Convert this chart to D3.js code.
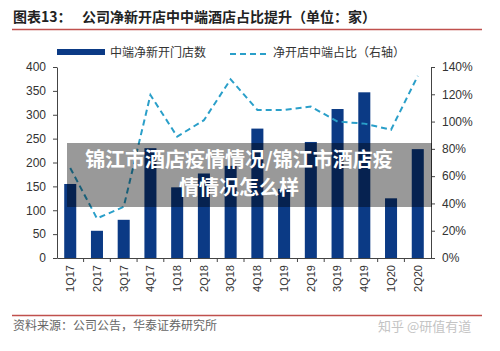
<!DOCTYPE html>
<html><head><meta charset="utf-8">
<script src="https://cdn.jsdelivr.net/npm/d3@7"></script>
<style>body{margin:0;background:#fff;}svg{display:block;}</style>
</head><body>
<script>
const categories = ["1Q17","2Q17","3Q17","4Q17","1Q18","2Q18","3Q18","4Q18","1Q19","2Q19","3Q19","4Q19","1Q20","2Q20"];
const newStores = [155,57,80,230,148,177,193,271,145,243,312,347,125,228];
const midShare = [0.66,0.29,0.375,1.195,0.89,1.01,1.31,1.085,1.085,1.11,1.0,0.985,0.94,1.335];
const leftTicks = [0,50,100,150,200,250,300,350,400];
const rightTicks = [0,0.2,0.4,0.6,0.8,1.0,1.2,1.4];

const W=500,H=351;
const svg=d3.select("body").append("svg").attr("width",W).attr("height",H);
const font='"Noto Sans CJK SC", "Noto Sans", sans-serif';
const num='"Liberation Sans", Arial, sans-serif';

// title
svg.append("text").attr("x",13).attr("y",22).attr("font-family",font).attr("font-weight","bold")
  .attr("font-size",14).attr("fill","#222").text("图表13：");
svg.append("text").attr("x",82).attr("y",22).attr("font-family",font).attr("font-weight","bold")
  .attr("font-size",14).attr("fill","#222").text("公司净新开店中中端酒店占比提升（单位：家）");
svg.append("line").attr("x1",12).attr("x2",482).attr("y1",29.5).attr("y2",29.5).attr("stroke","#c0504d").attr("stroke-width",1.5);

const x=d3.scaleBand().domain(categories).range([57,431]).paddingInner(0.55).paddingOuter(0.27);
const y=d3.scaleLinear().domain([0,400]).range([258,67]);
const y2=d3.scaleLinear().domain([0,1.4]).range([258,67]);

const barColor="#0b3a85", lineColor="#2a9fc9";

// legend
svg.append("rect").attr("x",57).attr("y",49).attr("width",48).attr("height",6).attr("fill",barColor);
svg.append("text").attr("x",110).attr("y",57).attr("font-family",font).attr("font-size",12).attr("fill","#333").text("中端净新开门店数");
svg.append("line").attr("x1",230).attr("x2",268).attr("y1",54).attr("y2",54).attr("stroke",lineColor).attr("stroke-width",2).attr("stroke-dasharray","6,4");
svg.append("text").attr("x",273).attr("y",57).attr("font-family",font).attr("font-size",12).attr("fill","#333").text("净开店中端占比（右轴）");

// bars
svg.selectAll("rect.bar").data(categories).enter().append("rect").attr("class","bar")
  .attr("x",d=>x(d)).attr("width",x.bandwidth())
  .attr("y",(d,i)=>y(newStores[i])).attr("height",(d,i)=>y(0)-y(newStores[i])).attr("fill",barColor);

// line
const line=d3.line().x((d,i)=>x(categories[i])+x.bandwidth()/2).y(d=>y2(d));
svg.append("path").datum(midShare).attr("d",line).attr("fill","none").attr("stroke",lineColor)
  .attr("stroke-width",2).attr("stroke-dasharray","6,4");

// axes
const la=svg.append("g").attr("transform","translate(57,0)")
  .call(d3.axisLeft(y).tickValues(leftTicks).tickSize(4).tickSizeOuter(0));
la.selectAll("text").attr("font-family",num).attr("font-size",12).attr("fill","#333").attr("dx","-4");
la.select(".domain").attr("stroke","#444");
la.selectAll(".tick line").attr("stroke","#444");

const ra=svg.append("g").attr("transform","translate(431,0)")
  .call(d3.axisRight(y2).tickValues(rightTicks).tickFormat(d3.format(".0%")).tickSize(4).tickSizeOuter(0));
ra.selectAll("text").attr("font-family",num).attr("font-size",12).attr("fill","#333").attr("dx","4");
ra.select(".domain").attr("stroke","#444");
ra.selectAll(".tick line").attr("stroke","#444");

const xa=svg.append("g").attr("transform","translate(0,258)")
  .call(d3.axisBottom(x).tickSize(0).tickSizeOuter(0));
xa.select(".domain").attr("stroke","#444");
xa.selectAll("text").attr("font-family",num).attr("font-size",11).attr("fill","#333")
  .attr("transform","rotate(-90)").attr("text-anchor","end").attr("dx","-5").attr("dy","0.35em").attr("y",0).attr("x",-2);
// small ticks between bands
const bounds=categories.map(d=>x(d)-x.step()*x.paddingInner()/2).slice(1);
svg.selectAll("line.bt").data(bounds).enter().append("line").attr("x1",d=>d).attr("x2",d=>d)
  .attr("y1",258).attr("y2",262).attr("stroke","#444");

// footer
svg.append("line").attr("x1",12).attr("x2",482).attr("y1",315.5).attr("y2",315.5).attr("stroke","#c0504d").attr("stroke-width",1.5);
svg.append("text").attr("x",13).attr("y",330).attr("font-family",font).attr("font-size",12).attr("fill","#666").text("资料来源：公司公告，华泰证券研究所");
svg.append("text").attr("x",378).attr("y",331).attr("font-family",font).attr("font-size",13).attr("fill","#c4c4c4").text("知乎 @研值有道");

// overlay
svg.append("rect").attr("x",67).attr("y",143).attr("width",365).attr("height",64).attr("fill","rgba(0,0,0,0.4)");
const ov=svg.append("text").attr("font-family",font).attr("font-weight","bold").attr("font-size",20)
  .attr("fill","#fff").attr("text-anchor","middle");
ov.append("tspan").attr("x",239).attr("y",167).text("锦江市酒店疫情情况/锦江市酒店疫");
ov.append("tspan").attr("x",239).attr("y",195).text("情情况怎么样");
</script>
</body></html>
